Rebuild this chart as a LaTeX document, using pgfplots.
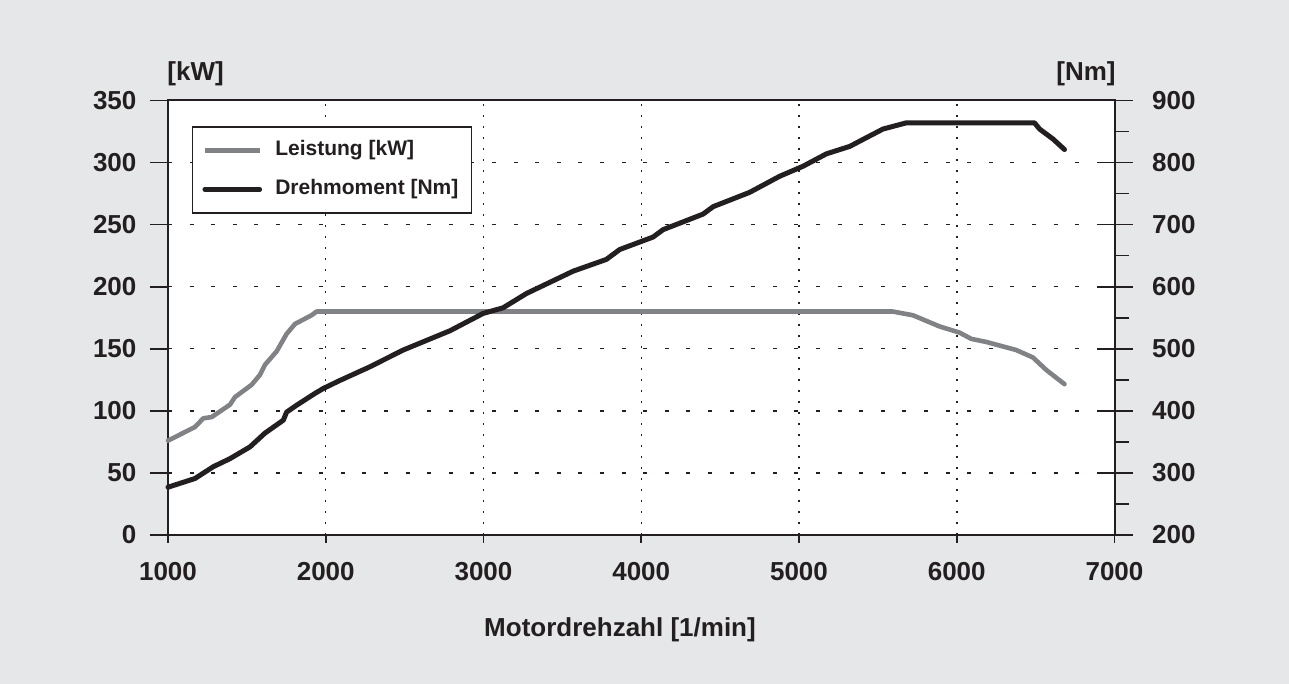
\documentclass[border=0pt]{standalone}
\usepackage{pgfplots}
\pgfplotsset{compat=1.18}
\usepackage{fontspec}
\setmainfont{Liberation Sans}
\definecolor{bg}{HTML}{E6E7E8}
\definecolor{gline}{HTML}{808285}
\definecolor{kline}{HTML}{231F20}
\begin{document}
\begin{tikzpicture}
\fill[bg] (-84pt,-74.5pt) rectangle (560.5pt,267.5pt);
\useasboundingbox (-84pt,-74.5pt) rectangle (560.5pt,267.5pt);
\begin{axis}[
  at={(0pt,0pt)}, anchor=south west,
  width=473.25pt, height=217.25pt, scale only axis,
  xmin=1000, xmax=7000, ymin=0, ymax=350,
  xtick={1000,2000,...,7000}, ytick={0,50,...,350},
  xtick pos=bottom, ytick pos=left,
  tick align=outside,
  xtick style={/pgfplots/major tick length=4pt, line width=0.8pt, kline},
  ytick style={/pgfplots/major tick length=9pt, line width=0.8pt, kline},
  axis background/.style={fill=white},
  axis line style={line width=1pt, kline},
  ymajorgrids, xmajorgrids,
  y grid style={kline, line width=0.7pt, dash pattern=on 2pt off 8.8pt},
  x grid style={kline, line width=0.75pt, dash pattern=on 0.75pt off 4.75pt},
  /pgf/number format/assume math mode=true,
  /pgf/number format/set thousands separator={},
  ticklabel style={font=\fontsize{13}{15}\selectfont\bfseries, text=kline},
  xticklabel style={yshift=-6pt},
  yticklabel style={xshift=-8pt},
  clip=false,
]
\addplot[gline, line width=2.3pt, line join=round, line cap=round] coordinates {
(1000,76) (1171,87) (1224,94) (1277,95) (1393,105) (1424,111) (1530,121)
(1583,129) (1614,137) (1689,148) (1752,162) (1805,170) (1910,177) (1942,180)
(5595,180) (5722,177) (5891,168) (6018,163) (6092,158) (6187,155.5)
(6377,149) (6483,143) (6567,133) (6683,121.5)
};
\end{axis}
\begin{axis}[
  at={(0pt,0pt)}, anchor=south west,
  width=473.25pt, height=217.25pt, scale only axis,
  xmin=1000, xmax=7000, ymin=200, ymax=900,
  axis x line=none, axis y line*=right,
  ytick={200,300,...,900},
  minor ytick={250,350,...,850},
  tick align=outside,
  ytick style={/pgfplots/major tick length=9pt, /pgfplots/minor tick length=7pt, line width=0.8pt, kline},
  extra y ticks={300,400,...,900},
  extra y tick labels={},
  extra y tick style={tick align=inside, /pgfplots/major tick length=10.5pt},
  axis line style={line width=1pt, kline},
  /pgf/number format/assume math mode=true,
  /pgf/number format/set thousands separator={},
  ticklabel style={font=\fontsize{13}{15}\selectfont\bfseries, text=kline},
  yticklabel style={xshift=11pt},
  clip=false,
  legend style={at={(0.025,0.941)}, anchor=north west, draw=kline, line width=0.8pt,
    fill=white, font=\fontsize{10.5}{12}\selectfont\bfseries, text=kline,
    inner xsep=5pt, inner ysep=5pt, row sep=6pt,
    nodes={inner sep=1.5pt, text height=8pt, text depth=2.5pt}},
  legend cell align=left,
  legend image code/.code={\draw[#1, line width=2.3pt] (0pt,0pt) -- (27.5pt,0pt); \path (32.5pt,0pt);},
]
\addlegendimage{gline}
\addlegendentry{Leistung [kW]}
\addplot[kline, line width=2.5pt, line join=round, line cap=round] coordinates {
(1000,277) (1171,291) (1287,310) (1393,323) (1520,342) (1614,364) (1731,385)
(1752,398) (1815,409) (1931,428) (1984,436) (2090,449) (2280,471) (2491,498)
(2787,529) (2998,557) (3124,566) (3272,589) (3568,625) (3779,644) (3864,660)
(4075,680) (4139,692) (4392,717) (4456,729) (4687,752) (4878,778) (5025,794)
(5173,814) (5321,826) (5532,854) (5680,864) (6493,864) (6525,854) (6610,838)
(6683,821)
};
\addlegendentry{Drehmoment [Nm]}
\end{axis}
\node[anchor=west, inner sep=0pt, font=\fontsize{13}{15}\selectfont\bfseries, text=kline] at (-0.5pt,230.5pt) {[kW]};
\node[anchor=east, inner sep=0pt, font=\fontsize{13}{15}\selectfont\bfseries, text=kline] at (474pt,230.5pt) {[Nm]};
\node[inner sep=0pt, font=\fontsize{13}{15}\selectfont\bfseries, text=kline] at (226pt,-47.5pt) {Motordrehzahl [1/min]};
\end{tikzpicture}
\end{document}
